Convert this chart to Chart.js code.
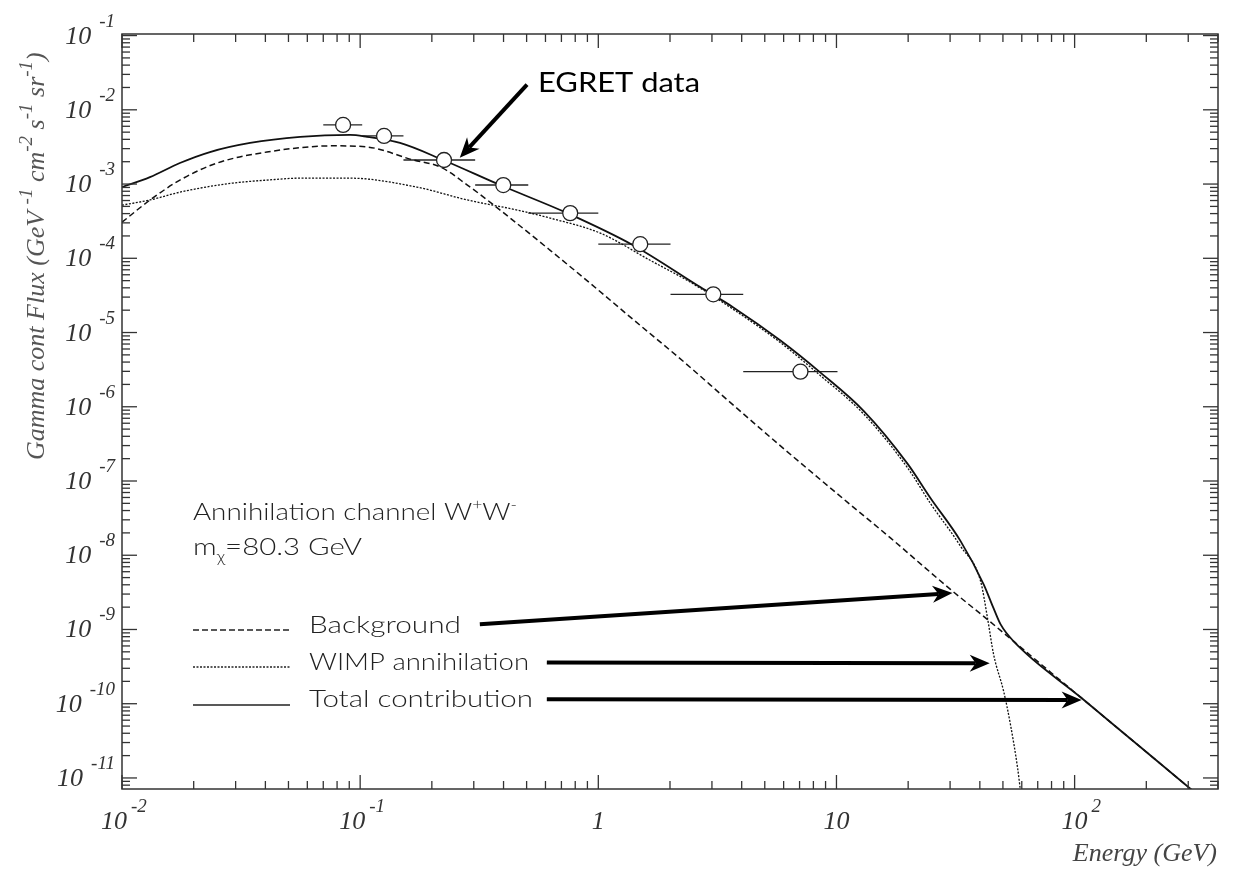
<!DOCTYPE html>
<html>
<head>
<meta charset="utf-8">
<script src="https://cdn.jsdelivr.net/npm/chart.js@4.4.1/dist/chart.umd.min.js"></script>
<style>
  html, body { margin: 0; padding: 0; background: #fff; }
  #wrap { width: 1233px; height: 872px; position: relative; }
</style>
</head>
<body>
<div id="wrap"><canvas id="chart"></canvas></div>
<script>
// axis ranges (GeV, flux)
const X_MIN = 0.01, X_MAX = 400;
const Y_MIN = 7.1e-12, Y_MAX = 0.105;

const xTickVals = [0.01, 0.1, 1, 10, 100];
const xTickBase = ['10', '10', '1', '10', '10'];
const xTickSup  = ['-2', '-1', '', '', '2'];
const yTickVals = [1e-1, 1e-2, 1e-3, 1e-4, 1e-5, 1e-6, 1e-7, 1e-8, 1e-9, 1e-10, 1e-11];
const yTickSup  = ['-1', '-2', '-3', '-4', '-5', '-6', '-7', '-8', '-9', '-10', '-11'];

// Total contribution (solid)
const totE = [0.0100, 0.0131, 0.0175, 0.0234, 0.0345, 0.0560, 0.0908, 0.107, 0.147, 0.223, 0.387, 0.741,
              1.40, 2.69, 3.69, 5.82, 8.57, 13.0, 19.9, 24.8, 33.2, 41.5, 45.7, 48.9, 55.5, 106, 203, 307, 320];
const totF = [9.1e-4, 1.24e-3, 1.92e-3, 2.70e-3, 3.58e-3, 4.32e-3, 4.59e-3, 4.32e-3, 3.58e-3, 2.11e-3, 9.7e-4, 4.06e-4,
              1.50e-4, 4.06e-5, 2.18e-5, 7.8e-6, 2.88e-6, 8.8e-7, 1.70e-7, 5.9e-8, 1.55e-8, 4.06e-9, 1.92e-9, 1.17e-9,
              6.9e-10, 1.22e-10, 2.15e-11, 7.1e-12, 6.35e-12];

// Background (dashed)
const bgE = [0.0100, 0.0131, 0.0175, 0.0251, 0.0406, 0.0771, 0.107, 0.167, 0.217, 0.282, 0.387, 0.628, 0.865,
             1.40, 2.28, 3.48, 5.82, 11.1, 16.9, 21.9, 30.1, 43.1, 55.5, 106, 203, 307, 320];
const bgF = [3.06e-4, 6.08e-4, 1.13e-3, 1.92e-3, 2.70e-3, 3.27e-3, 3.16e-3, 2.11e-3, 1.70e-3, 9.7e-4, 4.46e-4, 1.28e-4, 5.5e-5,
             1.50e-5, 4.06e-6, 1.24e-6, 2.97e-7, 5.2e-8, 1.70e-8, 8.3e-9, 3.47e-9, 1.36e-9, 6.9e-10, 1.22e-10, 2.15e-11,
             7.1e-12, 6.35e-12];

// WIMP annihilation (dotted)
const wimpE = [0.0100, 0.0131, 0.0170, 0.0212, 0.0292, 0.0406, 0.0560, 0.0908, 0.173, 0.282, 0.457, 0.628, 1.02,
               1.65, 2.44, 3.69, 5.82, 8.57, 13.0, 19.9, 24.8, 33.2, 40.3, 43.1, 45.7, 50.4, 53.8, 57.7, 59.3];
const wimpF = [5.2e-4, 6.1e-4, 7.6e-4, 8.8e-4, 1.03e-3, 1.13e-3, 1.20e-3, 1.20e-3, 9.1e-4, 6.1e-4, 4.46e-4, 3.48e-4, 2.18e-4,
               9.4e-5, 4.74e-5, 2.05e-5, 7.3e-6, 2.62e-6, 8.0e-7, 1.50e-7, 5.0e-8, 1.32e-8, 4.46e-9, 1.41e-9, 4.6e-10,
               1.45e-10, 5.2e-11, 1.32e-11, 6.5e-12];

// EGRET points with energy bins
const egretE  = [0.0848, 0.126, 0.225, 0.399, 0.762, 1.50, 3.04, 7.06];
const egretLo = [0.070, 0.102, 0.152, 0.304, 0.508, 1.00, 2.01, 4.06];
const egretHi = [0.102, 0.152, 0.304, 0.508, 1.00, 2.01, 4.06, 10.1];
const egretF  = [6.26e-3, 4.45e-3, 2.11e-3, 9.7e-4, 4.06e-4, 1.55e-4, 3.27e-5, 2.97e-6];

// annotation arrows, [fromE, fromF, toE, toF]
const arrows = [
  [0.502, 2.18e-2, 0.262, 2.26e-3],   // EGRET data
  [0.318, 1.18e-9, 30.7, 3.1e-9],     // Background
  [0.608, 3.6e-10, 44.0, 3.5e-10],    // WIMP
  [0.608, 1.15e-10, 107, 1.12e-10]    // Total
];

const pts = (E, F) => E.map((e, i) => ({ x: e, y: F[i] }));
const SERIF = '"Liberation Serif", "DejaVu Serif", serif';
const SANS = 'Lato, "DejaVu Sans", sans-serif';

function line(ctx, x1, y1, x2, y2) {
  ctx.beginPath(); ctx.moveTo(x1, y1); ctx.lineTo(x2, y2); ctx.stroke();
}

function arrow(ctx, x1, y1, x2, y2) {
  const ang = Math.atan2(y2 - y1, x2 - x1);
  const c = Math.cos(ang), s = Math.sin(ang);
  const L = 20, W = 8.5, N = 14;
  ctx.lineWidth = 4;
  line(ctx, x1, y1, x2 - c * N, y2 - s * N);
  ctx.beginPath();
  ctx.moveTo(x2, y2);
  ctx.lineTo(x2 - c * L - s * W, y2 - s * L + c * W);
  ctx.lineTo(x2 - c * (L - 6), y2 - s * (L - 6));
  ctx.lineTo(x2 - c * L + s * W, y2 - s * L - c * W);
  ctx.closePath();
  ctx.fill();
}

// parts: [text, shift] shift 0 normal, -1 superscript, 1 subscript; stretched to width
function richText(ctx, parts, x, y, width, size, family, weight) {
  const fontFor = sh => `${weight} ${sh ? Math.round(size * 0.62) : size}px ${family}`;
  let w = 0;
  parts.forEach(([t, sh]) => { ctx.font = fontFor(sh); w += ctx.measureText(t).width; });
  ctx.save();
  ctx.translate(x, y);
  ctx.scale(width ? width / w : 1, 1);
  let cx = 0;
  parts.forEach(([t, sh]) => {
    ctx.font = fontFor(sh);
    const dy = sh < 0 ? -size * 0.42 : sh > 0 ? size * 0.3 : 0;
    ctx.fillText(t, cx, dy);
    cx += ctx.measureText(t).width;
  });
  ctx.restore();
}

const decor = {
  id: 'decor',
  beforeDatasetsDraw(chart) {
    const { ctx, scales: { x, y } } = chart;
    ctx.save();
    ctx.strokeStyle = '#222';
    ctx.lineWidth = 1.4;
    egretE.forEach((e, i) => {
      const py = y.getPixelForValue(egretF[i]);
      line(ctx, x.getPixelForValue(egretLo[i]), py, x.getPixelForValue(egretHi[i]), py);
    });
    ctx.restore();
  },
  afterDraw(chart) {
    const { ctx, chartArea: a, scales: { x, y } } = chart;
    ctx.save();

    // frame + inward ticks
    ctx.strokeStyle = '#333';
    ctx.lineWidth = 1.5;
    ctx.strokeRect(a.left, a.top, a.right - a.left, a.bottom - a.top);
    ctx.lineWidth = 1.3;
    for (let k = -2; k <= 2; k++) for (let m = 1; m <= 9; m++) {
      const v = m * Math.pow(10, k);
      if (v < X_MIN * 0.999 || v > X_MAX) continue;
      const px = x.getPixelForValue(v), len = m === 1 ? 14 : 8;
      line(ctx, px, a.bottom, px, a.bottom - len);
      line(ctx, px, a.top, px, a.top + len);
    }
    for (let k = -12; k <= -1; k++) for (let m = 1; m <= 9; m++) {
      const v = m * Math.pow(10, k);
      if (v < Y_MIN || v > Y_MAX) continue;
      const py = y.getPixelForValue(v), len = m === 1 ? 15 : 8;
      line(ctx, a.left, py, a.left + len, py);
      line(ctx, a.right, py, a.right - len, py);
    }

    // tick labels
    ctx.fillStyle = '#333';
    ctx.textBaseline = 'alphabetic';
    yTickVals.forEach((v, i) => {
      const py = y.getPixelForValue(v);
      ctx.font = `italic 19px ${SERIF}`;
      ctx.textAlign = 'right';
      const sw = ctx.measureText(yTickSup[i]).width;
      ctx.fillText(yTickSup[i], 115, py - 9);
      ctx.font = `italic 26px ${SERIF}`;
      ctx.fillText('10', 115 - sw - 8, py + 8);
    });
    xTickVals.forEach((v, i) => {
      const px = x.getPixelForValue(v);
      const neg = xTickSup[i].startsWith('-');
      ctx.font = `italic 26px ${SERIF}`;
      ctx.textAlign = 'center';
      const cx = px + (neg ? -8 : 0);
      ctx.fillText(xTickBase[i], cx, 829);
      if (xTickSup[i]) {
        const bw = ctx.measureText(xTickBase[i]).width;
        ctx.font = `italic 19px ${SERIF}`;
        ctx.textAlign = 'left';
        ctx.fillText(xTickSup[i], cx + bw / 2 + 4, 812);
      }
    });

    // axis titles
    ctx.fillStyle = '#444';
    ctx.font = `italic 26px ${SERIF}`;
    ctx.textAlign = 'right';
    ctx.fillText('Energy (GeV)', 1217, 861);
    ctx.textAlign = 'left';
    ctx.fillStyle = '#555';
    ctx.save();
    ctx.translate(44, 460);
    ctx.rotate(-Math.PI / 2);
    const yTitle = [['Gamma cont Flux (GeV ', 0], ['-1', -1], [' cm', 0], ['-2', -1], [' s', 0], ['-1', -1],
                    [' sr', 0], ['-1', -1], [')', 0]];
    let tx = 0;
    yTitle.forEach(([t, sh]) => {
      ctx.font = `italic ${sh ? 19 : 26}px ${SERIF}`;
      ctx.fillText(t, tx, sh ? -12 : 0);
      tx += ctx.measureText(t).width;
    });
    ctx.restore();

    // legend samples
    ctx.strokeStyle = '#222';
    ctx.lineWidth = 1.4;
    ctx.setLineDash([6, 3]); line(ctx, 193, 630, 290, 630);
    ctx.setLineDash([2, 1.5]); line(ctx, 193, 667, 290, 667);
    ctx.setLineDash([]); line(ctx, 193, 705, 290, 705);

    // texts
    ctx.fillStyle = '#222';
    richText(ctx, [['Annihilation channel W', 0], ['+', -1], ['W', 0], ['-', -1]], 193, 520, 324, 24, SANS, 300);
    richText(ctx, [['m', 0], ['χ', 1], ['=80.3 GeV', 0]], 193, 555, 169, 24, SANS, 300);
    richText(ctx, [['Background', 0]], 309, 633, 152, 24, SANS, 300);
    richText(ctx, [['WIMP annihilation', 0]], 309, 670, 220, 24, SANS, 300);
    richText(ctx, [['Total contribution', 0]], 309, 707, 224, 24, SANS, 300);
    ctx.fillStyle = '#000';
    richText(ctx, [['EGRET data', 0]], 538, 92, 162, 27, SANS, 400);

    // arrows
    ctx.strokeStyle = '#000';
    arrows.forEach(([e1, f1, e2, f2]) => {
      arrow(ctx, x.getPixelForValue(e1), y.getPixelForValue(f1), x.getPixelForValue(e2), y.getPixelForValue(f2));
    });
    ctx.restore();
  }
};

const lineStyle = { showLine: true, pointRadius: 0, borderColor: '#111', cubicInterpolationMode: 'monotone', fill: false };

new Chart(document.getElementById('chart'), {
  type: 'scatter',
  data: {
    datasets: [
      { label: 'EGRET data', data: pts(egretE, egretF), pointRadius: 7.5, pointBackgroundColor: '#fff',
        pointBorderColor: '#222', pointBorderWidth: 1.3, showLine: false },
      { ...lineStyle, label: 'Total contribution', data: pts(totE, totF), borderWidth: 1.8 },
      { ...lineStyle, label: 'WIMP annihilation', data: pts(wimpE, wimpF), borderWidth: 1.3, borderDash: [2, 1.5] },
      { ...lineStyle, label: 'Background', data: pts(bgE, bgF), borderWidth: 1.5, borderDash: [6, 3.5] }
    ]
  },
  options: {
    responsive: true,
    maintainAspectRatio: false,
    animation: false,
    layout: { padding: { top: 34, right: 15, left: 0, bottom: 0 } },
    plugins: { legend: { display: false }, tooltip: { enabled: false } },
    scales: {
      x: { type: 'logarithmic', min: X_MIN, max: X_MAX, ticks: { display: false },
           grid: { display: false, drawTicks: false }, border: { display: false },
           afterFit: s => { s.height = 83; } },
      y: { type: 'logarithmic', min: Y_MIN, max: Y_MAX, ticks: { display: false },
           grid: { display: false, drawTicks: false }, border: { display: false },
           afterFit: s => { s.width = 122; } }
    }
  },
  plugins: [decor]
});
</script>
</body>
</html>
